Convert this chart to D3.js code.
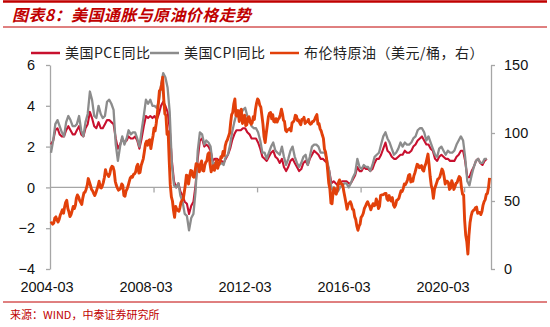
<!DOCTYPE html>
<html><head><meta charset="utf-8">
<script src="https://cdn.jsdelivr.net/npm/d3@7"></script>
<style>
html,body{margin:0;padding:0;background:#fff;}
svg{display:block;}
</style></head>
<body>
<script>
// ---------- DATA ----------
const startMonth = "2004-03";
// US CPI YoY (%), monthly 2004-03 .. 2021-01
const cpiYoY = [
 1.7,2.3,3.1,3.3,3.0,2.7,2.5,3.2,3.5,3.3,
 3.0,3.0,3.1,3.5,2.8,2.5,3.2,3.6,4.7,4.3,3.5,3.4,
 4.0,3.6,3.4,3.5,4.2,4.3,4.1,3.8,2.1,1.3,2.0,2.5,
 2.1,2.4,2.8,2.6,2.7,2.7,2.4,2.0,2.8,3.5,4.3,4.1,
 4.3,4.0,4.0,3.9,4.2,5.0,5.6,5.4,4.9,3.7,1.1,0.1,
 0.0,0.2,-0.4,-0.7,-1.3,-1.4,-2.1,-1.5,-1.3,-0.2,1.8,2.7,
 2.6,2.1,2.3,2.2,2.0,1.1,1.2,1.1,1.1,1.2,1.1,1.5,
 1.6,2.1,2.7,3.2,3.6,3.6,3.6,3.8,3.9,3.5,3.4,3.0,
 2.9,2.9,2.7,2.3,1.7,1.7,1.4,1.7,2.0,2.2,1.8,1.7,
 1.6,2.0,1.5,1.1,1.4,1.8,2.0,1.5,1.2,1.0,1.2,1.5,
 1.6,1.1,1.5,2.0,2.1,2.1,2.0,1.7,1.7,1.7,1.3,0.8,
 -0.1,0.0,-0.1,-0.2,0.0,0.1,0.2,0.2,0.0,0.2,0.5,0.7,
 1.4,1.0,0.9,1.1,1.0,1.0,0.8,1.1,1.5,1.6,1.7,2.1,
 2.5,2.7,2.4,2.2,1.9,1.6,1.7,1.9,2.2,2.0,2.2,2.1,
 2.1,2.2,2.4,2.5,2.8,2.9,2.9,2.7,2.3,2.5,2.2,1.9,
 1.6,1.5,1.9,2.0,1.8,1.6,1.8,1.7,1.7,1.8,2.1,2.3,
 2.5,2.3,1.5,0.3,0.1,0.6,1.0,1.3,1.4,1.2,1.2,1.4,
 1.4
];
// US PCE YoY (%), monthly 2004-03 .. 2021-01
const pceYoY = [
 2.1,2.3,2.8,2.9,2.6,2.5,2.5,2.8,3.0,2.8,
 2.6,2.6,2.8,3.0,2.6,2.5,2.9,3.1,3.7,3.4,3.0,2.9,
 3.2,2.9,2.9,3.1,3.3,3.3,3.2,3.1,2.4,1.9,2.1,2.4,
 2.2,2.3,2.5,2.4,2.4,2.5,2.3,1.9,2.4,3.0,3.5,3.4,
 3.5,3.4,3.5,3.3,3.6,4.0,4.2,4.0,3.7,2.9,1.3,0.3,
 0.0,0.2,-0.2,-0.4,-0.7,-0.8,-1.3,-0.9,-0.7,0.1,1.4,2.3,
 2.4,2.0,2.1,2.0,1.8,1.3,1.4,1.4,1.3,1.3,1.2,1.4,
 1.6,1.9,2.3,2.6,2.8,2.8,2.8,2.9,2.9,2.7,2.6,2.4,
 2.4,2.4,2.2,1.9,1.5,1.4,1.3,1.5,1.7,1.8,1.5,1.4,
 1.2,1.4,1.0,0.8,1.0,1.3,1.4,1.2,1.0,0.8,0.9,1.2,
 1.3,1.1,1.4,1.6,1.8,1.7,1.6,1.4,1.4,1.3,1.2,0.8,
 0.2,0.3,0.2,0.1,0.2,0.3,0.3,0.3,0.2,0.2,0.4,0.6,
 1.0,0.8,0.8,1.0,0.9,0.9,0.8,0.9,1.2,1.4,1.4,1.6,
 1.9,2.2,1.8,1.7,1.5,1.4,1.4,1.5,1.6,1.6,1.8,1.7,
 1.7,1.8,2.0,2.1,2.3,2.4,2.5,2.3,2.1,2.1,1.9,1.8,
 1.4,1.3,1.5,1.6,1.5,1.4,1.4,1.3,1.3,1.3,1.5,1.6,
 1.8,1.8,1.3,0.5,0.5,0.8,1.0,1.3,1.4,1.2,1.1,1.3,
 1.4
];
// Brent crude (USD/bbl), two readings per month (early, late), 2004-03 .. 2021-02
const brent = [
 33.5,34.0, 33.0,33.8, 37.5,38.3, 36.0,34.5, 36.5,39.5, 41.5,43.5, 41.0,45.5, 49.0,50.5, 44.5,42.0, 38.5,40.0,
 43.0,46.0, 44.5,47.0, 52.0,54.5, 53.0,50.5, 49.0,47.5, 52.5,56.0, 56.5,58.5, 61.5,66.5, 64.0,61.5, 58.5,57.5, 55.5,54.0, 56.0,58.5,
 61.0,64.5, 60.0,59.5, 61.0,63.5, 67.5,73.0, 70.0,69.5, 68.0,70.0, 74.0,75.5, 75.0,72.0, 64.5,61.5, 59.5,58.0, 58.5,59.5, 62.5,61.5,
 54.0,53.5, 57.5,59.0, 61.0,64.0, 67.0,68.0, 67.5,69.5, 70.0,71.5, 75.5,77.0, 70.5,71.0, 76.0,78.5, 81.0,86.0, 92.0,94.0, 91.0,94.5,
 95.0,88.5, 93.5,98.0, 103.5,101.5, 107.0,114.0, 122.0,131.0, 132.0,135.5, 141.0,125.0, 114.0,113.0, 99.0,101.0, 80.0,62.0, 53.0,50.0, 43.0,38.0,
 46.0,44.0, 43.0,42.5, 45.0,49.0, 50.5,51.0, 56.0,61.5, 69.0,68.5, 62.5,68.0, 72.5,72.0, 68.0,67.5, 72.0,77.5, 77.0,76.5, 71.5,77.0,
 79.5,72.5, 72.0,76.5, 78.5,79.5, 84.5,85.5, 77.0,71.5, 74.0,76.0, 72.5,76.5, 80.0,74.0, 77.0,78.5, 82.5,82.0, 86.5,83.5, 90.5,93.5,
 95.0,97.5, 100.0,108.0, 113.5,115.0, 121.5,125.0, 113.0,112.5, 116.5,108.5, 116.0,117.5, 107.0,111.5, 113.0,105.5, 106.0,111.0, 112.0,108.0, 106.5,107.5,
 112.0,110.0, 117.5,122.0, 125.0,124.0, 120.5,119.0, 113.0,106.5, 97.0,93.0, 99.5,105.5, 112.0,114.5, 115.0,110.5, 113.5,108.5, 108.0,110.5, 108.0,110.0,
 111.0,113.5, 117.5,114.0, 109.5,108.5, 102.0,101.0, 102.5,102.5, 103.5,101.5, 107.5,108.0, 109.5,113.0, 112.5,109.0, 109.5,107.5, 106.0,110.0, 110.0,111.5,
 107.0,108.0, 108.5,110.0, 107.5,106.5, 107.0,108.5, 108.5,110.0, 112.0,113.5, 106.5,107.0, 103.0,101.5, 98.5,96.0, 88.0,86.0, 80.5,72.0, 63.0,59.0,
 48.5,48.0, 57.0,59.5, 56.0,55.0, 58.0,63.5, 65.5,63.0, 62.5,61.5, 57.0,53.0, 48.5,44.0, 47.5,48.5, 49.5,47.5, 44.0,43.5, 38.5,36.5,
 31.5,28.5, 31.5,33.0, 38.0,39.0, 41.0,44.5, 46.0,48.0, 49.5,47.5, 46.0,43.5, 46.0,48.0, 46.5,47.0, 51.5,49.5, 44.5,46.0, 54.0,54.5,
 54.5,55.0, 55.5,55.5, 51.5,50.5, 54.0,51.0, 50.0,52.5, 47.0,45.5, 47.0,50.5, 51.0,52.0, 55.0,57.5, 57.0,59.0, 62.5,62.0, 63.5,65.5,
 69.0,69.5, 64.0,66.0, 64.5,68.5, 71.0,74.0, 77.0,76.5, 74.5,75.0, 76.0,73.0, 72.0,75.5, 77.5,81.0, 84.5,77.0, 68.0,61.5, 58.5,52.0,
 58.5,61.0, 63.5,66.0, 66.5,67.5, 70.5,73.5, 72.0,68.0, 62.5,64.5, 64.5,63.5, 58.5,59.5, 65.0,62.5, 58.5,60.5, 63.0,63.5, 66.0,68.0,
 67.0,60.0, 55.0,54.5, 36.0,25.0, 20.0,11.0, 25.0,34.0, 39.0,42.0, 43.0,43.5, 45.0,45.5, 41.0,41.5, 41.5,40.0, 42.5,47.0, 49.5,51.0,
 55.0,55.5, 60.0,67.0
];
const xTickDates = ["2008-03","2012-03","2016-03","2020-03"];
const xLabels = ["2004-03","2008-03","2012-03","2016-03","2020-03"];
const leftTicks = [-4,-2,0,2,4,6];
const rightTicks = [0,50,100,150];
const seriesNames = ["美国PCE同比","美国CPI同比","布伦特原油（美元/桶，右）"];
const seriesColors = ["#C8102E","#8C8C8C","#E2400A"];

// ---------- LAYOUT ----------
const W = 550, H = 327;
const plot = {l:50, r:490, t:65, b:269};
const parseM = d3.timeParse("%Y-%m");
const t0 = parseM(startMonth);

const svg = d3.select("body").append("svg").attr("width",W).attr("height",H);

// header / footer rules
const red = "#C00000";
svg.append("line").attr("x1",3).attr("x2",547).attr("y1",1.5).attr("y2",1.5).attr("stroke",red).attr("stroke-width",2.5);
svg.append("line").attr("x1",3).attr("x2",547).attr("y1",27).attr("y2",27).attr("stroke",red).attr("stroke-width",1);
svg.append("line").attr("x1",3).attr("x2",547).attr("y1",302).attr("y2",302).attr("stroke",red).attr("stroke-width",1);
svg.append("text").attr("x",12).attr("y",21)
  .attr("font-family","'Noto Sans CJK SC','Noto Sans',sans-serif").attr("font-weight","bold")
  .attr("font-style","italic").attr("font-size",16).attr("letter-spacing",0.4).attr("fill",red)
  .text("图表8：美国通胀与原油价格走势");
svg.append("text").attr("x",10).attr("y",319)
  .attr("font-family","'Noto Sans CJK SC',sans-serif").attr("font-size",11).attr("fill",red)
  .text("来源：WIND，中泰证券研究所");

// scales
const x = d3.scaleTime().domain([t0, parseM("2021-03")]).range([plot.l, plot.r]);
const yL = d3.scaleLinear().domain([-4,6]).range([plot.b, plot.t]);
const yR = d3.scaleLinear().domain([0,150]).range([plot.b, plot.t]);
const xLab = d3.scaleLinear().domain([2004,2020]).range([47,443]);

const monthDate = i => { const d = d3.timeMonth.offset(t0, i); d.setDate(15); return d; };
const halfDate = i => { const d = d3.timeMonth.offset(t0, Math.floor(i/2)); d.setDate(i%2 ? 23 : 8); return d; };

const axisColor = "#A6A6A6";
const tickFont = "'Liberation Sans',Arial,sans-serif";

// left axis
const gL = svg.append("g").attr("transform",`translate(${plot.l},0)`)
  .call(d3.axisLeft(yL).tickValues(leftTicks).tickSize(4).tickPadding(11).tickSizeOuter(0));
// right axis
const gR = svg.append("g").attr("transform",`translate(${plot.r+1},0)`)
  .call(d3.axisRight(yR).tickValues(rightTicks).tickSize(4).tickPadding(9).tickSizeOuter(0));
// zero-line axis with ticks
const gX = svg.append("g").attr("transform",`translate(0,${yL(0)})`)
  .call(d3.axisBottom(x).tickValues(xTickDates.map(parseM)).tickSize(5).tickFormat(""));
gX.select(".domain").attr("d",`M${plot.l},0H${plot.r+1}`);
[gL,gR,gX].forEach(g=>{
  g.select(".domain").attr("stroke",axisColor).attr("stroke-width",1.3);
  g.selectAll(".tick line").attr("stroke",axisColor).attr("stroke-width",1.3);
  g.selectAll("text").attr("font-family",tickFont).attr("font-size",14.5).attr("fill","#111");
});
// x labels
svg.append("g").selectAll("text").data(xLabels).join("text")
  .attr("x",d=>xLab(+d.slice(0,4))).attr("y",292).attr("text-anchor","middle")
  .attr("font-family",tickFont).attr("font-size",14.5).attr("fill","#111").text(d=>d);

// lines
const lineL = d3.line().x(d=>x(d[0])).y(d=>yL(d[1]));
const lineR = d3.line().x(d=>x(d[0])).y(d=>yR(d[1]));
svg.append("path").datum(pceYoY.map((v,i)=>[monthDate(i),v])).attr("d",lineL)
  .attr("fill","none").attr("stroke",seriesColors[0]).attr("stroke-width",2.1).attr("stroke-linejoin","round");
svg.append("path").datum(cpiYoY.map((v,i)=>[monthDate(i),v])).attr("d",lineL)
  .attr("fill","none").attr("stroke",seriesColors[1]).attr("stroke-width",2.3).attr("stroke-linejoin","round");
svg.append("path").datum(brent.map((v,i)=>[halfDate(i),v])).attr("d",lineR)
  .attr("fill","none").attr("stroke",seriesColors[2]).attr("stroke-width",2.9).attr("stroke-linejoin","round");

// legend
const legX = [31,150,270];
const leg = svg.append("g");
seriesNames.forEach((n,i)=>{
  leg.append("line").attr("x1",legX[i]).attr("x2",legX[i]+29).attr("y1",53).attr("y2",53)
    .attr("stroke",seriesColors[i]).attr("stroke-width",2.5);
  leg.append("text").attr("x",legX[i]+34).attr("y",58)
    .attr("font-family","'Noto Sans CJK SC',sans-serif").attr("font-size",14).attr("letter-spacing",0.5)
    .attr("fill","#222").text(n);
});
</script>
</body></html>
